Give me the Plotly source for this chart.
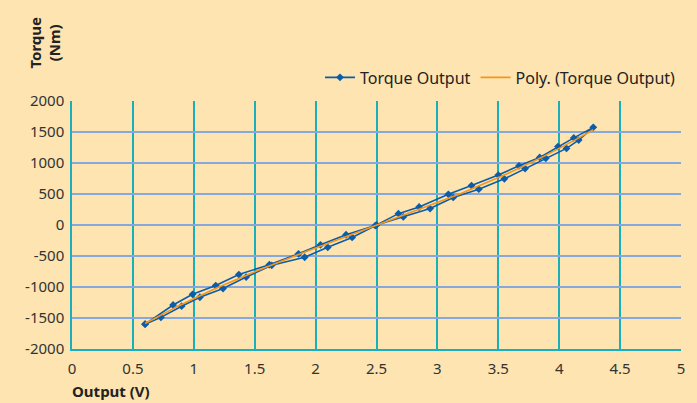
import numpy as np
import plotly.graph_objects as go

# Hysteresis sweep: up along the lower branch, back along the upper branch
volts_up = [0.60, 0.73, 0.90, 1.05, 1.24, 1.43, 1.64, 1.91, 2.10, 2.30, 2.50,
            2.72, 2.94, 3.13, 3.34, 3.55, 3.72, 3.89, 4.06, 4.16, 4.28]
torque_up = [-1600, -1490, -1310, -1165, -1025, -840, -650, -520, -360, -200, 0,
             130, 265, 445, 578, 745, 910, 1075, 1235, 1370, 1575]
volts_down = [4.12, 3.99, 3.84, 3.67, 3.50, 3.28, 3.09, 2.85, 2.68, 2.49,
              2.25, 2.04, 1.86, 1.62, 1.37, 1.18, 0.99, 0.83, 0.60]
torque_down = [1405, 1265, 1090, 955, 805, 636, 495, 290, 183, -10,
               -157, -320, -465, -640, -800, -977, -1118, -1290, -1600]

x_ticks = [0, 0.5, 1, 1.5, 2, 2.5, 3, 3.5, 4, 4.5, 5]
y_ticks = [-2000, -1500, -1000, -500, 0, 500, 1000, 1500, 2000]

x_all = volts_up + volts_down
y_all = torque_up + torque_down

# Polynomial trendline (as Excel "Poly.")
coef = np.polyfit(x_all, y_all, 3)
xt = np.linspace(min(x_all), max(x_all), 200)
yt = np.polyval(coef, xt)

BG = "#FDE4B0"
TEAL = "#1AAFBC"
GRIDBLUE = "#86A8DC"
FONT = "Noto Sans"

fig = go.Figure()
fig.add_trace(go.Scatter(
    x=x_all, y=y_all, mode="lines+markers", name="Torque Output",
    line=dict(color="#0B5DAA", width=1.6),
    marker=dict(symbol="diamond", size=6, color="#0B5DAA"),
))
fig.add_trace(go.Scatter(
    x=xt, y=yt, mode="lines", name="Poly. (Torque Output)",
    line=dict(color="#F7941D", width=1.6),
))

fig.update_layout(
    width=697, height=403,
    paper_bgcolor=BG, plot_bgcolor=BG,
    margin=dict(l=72, r=14, t=101, b=54),
    font=dict(family=FONT, size=15, color="#333333"),
    showlegend=True,
    legend=dict(orientation="h", x=1.0, xanchor="right", y=1.095, yanchor="middle",
                bgcolor="rgba(0,0,0,0)", font=dict(size=16, color="#222222"),
                itemwidth=30, tracegroupgap=0),
    xaxis=dict(range=[0, 5], tickvals=x_ticks, ticktext=[str(v) for v in x_ticks],
               showgrid=True, gridcolor=TEAL, gridwidth=1.5,
               showline=True, linecolor=TEAL, linewidth=1.5,
               zeroline=False, ticks="", ticklabelstandoff=5,
               tickfont=dict(size=15, color="#333333")),
    yaxis=dict(range=[-2000, 2000], tickvals=y_ticks, ticktext=[str(v) for v in y_ticks],
               showgrid=True, gridcolor=GRIDBLUE, gridwidth=1.5,
               showline=True, linecolor=TEAL, linewidth=1.5,
               zeroline=False, ticks="", ticklabelstandoff=3,
               tickfont=dict(size=15, color="#333333")),
    annotations=[
        dict(text="<b>Torque<br>(Nm)</b>", textangle=-90, xref="paper", yref="paper",
             x=-0.045, y=1.234, xanchor="center", yanchor="middle", showarrow=False,
             font=dict(size=15, color="#222222")),
        dict(text="<b>Output (V)</b>", xref="paper", yref="paper",
             x=-0.004, y=-0.17, xanchor="left", yanchor="middle", showarrow=False,
             font=dict(size=15, color="#222222")),
    ],
)

fig.write_html("out.html", config={"displayModeBar": False},
               post_script="document.body.style.margin='0px';document.body.style.padding='0px';document.body.style.overflow='hidden';")
